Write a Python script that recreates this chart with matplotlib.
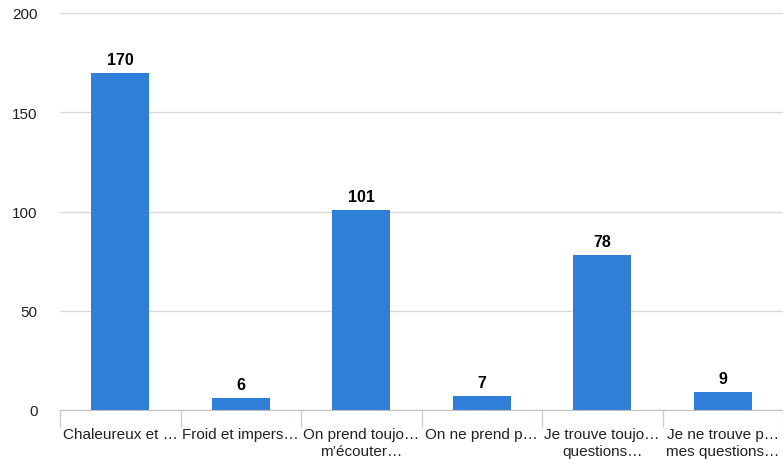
import numpy as np
import matplotlib.pyplot as plt

plt.rcParams['font.family'] = ['Liberation Sans', 'DejaVu Sans']

categories = ["Chaleureux et \u2026", "Froid et impers\u2026", "On prend toujo\u2026\nm\u2019\u00e9couter\u2026",
              "On ne prend p\u2026", "Je trouve toujo\u2026\nquestions\u2026", "Je ne trouve p\u2026\nmes questions\u2026"]
values = [170, 6, 101, 7, 78, 9]
yticks = [0, 50, 100, 150, 200]

fig = plt.figure(figsize=(7.83, 4.6), dpi=100)
ax = fig.add_axes([60 / 783, 1 - 411 / 460, 1 - 60 / 783, 397 / 460])

x = np.arange(len(values))
ax.bar(x, values, width=0.48, color='#2f7ed8', zorder=3)
for xi, v in zip(x, values):
    ax.text(xi, v + 3, str(v), ha='center', va='bottom', fontsize=11.5,
            fontweight='bold', color='#000000', zorder=4)

ax.set_xlim(-0.5, len(values) - 0.5)
ax.set_ylim(0, 200)
ax.set_yticks(yticks)
ax.set_yticklabels([str(t) for t in yticks], fontsize=11, color='#222222')
ax.yaxis.grid(True, color='#d9d9d9', linewidth=1, zorder=0)
ax.tick_params(axis='y', length=0, pad=16)

# category boundaries as tick marks
ax.set_xticks(np.arange(len(values) + 1) - 0.5)
ax.set_xticklabels([])
ax.tick_params(axis='x', length=12, color='#c8d0dc', width=1)
ax.set_xticks(x, minor=True)
ax.set_xticklabels(categories, minor=True, fontsize=11, color='#222222', linespacing=1.3)
ax.tick_params(axis='x', which='minor', length=0, pad=12)

for s in ['top', 'right', 'left']:
    ax.spines[s].set_visible(False)
ax.spines['bottom'].set_color('#c0c0c0')
ax.spines['bottom'].set_zorder(5)

fig.savefig('out.png', dpi=100)
